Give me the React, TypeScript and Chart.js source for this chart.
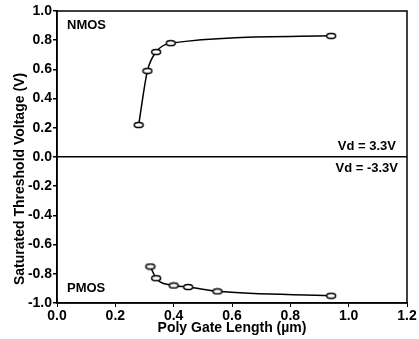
import React, { useEffect, useRef } from "react";
import { Chart, registerables } from "chart.js";

Chart.register(...registerables);

const nmosX = [0.28, 0.31, 0.34, 0.39, 0.94];
const nmosY = [0.22, 0.59, 0.72, 0.78, 0.83];
const pmosX = [0.32, 0.34, 0.4, 0.45, 0.55, 0.94];
const pmosY = [-0.75, -0.83, -0.88, -0.89, -0.92, -0.95];

const xTitle = "Poly Gate Length (\u00b5m)";
const yTitle = "Saturated Threshold Voltage (V)";
const labelN = "NMOS";
const labelP = "PMOS";
const vdPos = "Vd = 3.3V";
const vdNeg = "Vd = -3.3V";

const FONT = "'Liberation Sans', Arial, Helvetica, sans-serif";

function makeEllipse(): HTMLCanvasElement {
  const c = document.createElement("canvas");
  c.width = 12;
  c.height = 8;
  const g = c.getContext("2d")!;
  g.beginPath();
  g.ellipse(6, 4, 4.5, 2.6, 0, 0, Math.PI * 2);
  g.fillStyle = "#fff";
  g.fill();
  g.lineWidth = 1.5;
  g.strokeStyle = "#000";
  g.stroke();
  return c;
}

export default function App() {
  const ref = useRef<HTMLCanvasElement | null>(null);
  useEffect(() => {
    document.body.style.margin = "0";
    if (!ref.current) return;
    const marker = makeEllipse();
    const annot = {
      id: "annot",
      beforeDatasetsDraw(chart: any) {
        const { ctx, chartArea: a } = chart;
        ctx.save();
        ctx.strokeStyle = "#000";
        ctx.lineWidth = 1.5;
        ctx.strokeRect(a.left, a.top, a.right - a.left, a.bottom - a.top);
        ctx.restore();
      },
      afterDraw(chart: any) {
        const { ctx, chartArea: a, scales } = chart;
        const y0 = scales.y.getPixelForValue(0);
        ctx.save();
        ctx.fillStyle = "#000";
        ctx.font = `bold 13px ${FONT}`;
        ctx.textBaseline = "middle";
        ctx.textAlign = "left";
        ctx.fillText(labelN, a.left + 10, a.top + 14);
        ctx.fillText(labelP, a.left + 10, a.bottom - 15);
        ctx.textAlign = "right";
        ctx.fillText(vdPos, a.right - 11, y0 - 11);
        ctx.fillText(vdNeg, a.right - 9, y0 + 11);
        ctx.font = `bold 14px ${FONT}`;
        ctx.translate(20, 179);
        ctx.rotate(-Math.PI / 2);
        ctx.textAlign = "center";
        ctx.fillText(yTitle, 0, 0);
        ctx.restore();
      },
    };
    const chart = new Chart(ref.current, {
      type: "scatter",
      data: {
        datasets: [
          {
            label: labelN,
            data: nmosX.map((x, i) => ({ x, y: nmosY[i] })),
            showLine: true,
            borderColor: "#000",
            borderWidth: 1.5,
            cubicInterpolationMode: "monotone",
            pointStyle: marker,
          },
          {
            label: labelP,
            data: pmosX.map((x, i) => ({ x, y: pmosY[i] })),
            showLine: true,
            borderColor: "#000",
            borderWidth: 1.5,
            cubicInterpolationMode: "monotone",
            pointStyle: marker,
          },
        ],
      },
      options: {
        animation: false,
        responsive: false,
        layout: { padding: { left: 0, right: 12, top: 11, bottom: 0 } },
        plugins: { legend: { display: false }, tooltip: { enabled: false } },
        scales: {
          x: {
            type: "linear",
            min: 0,
            max: 1.2,
            afterFit: (s: any) => {
              s.height = 36;
            },
            ticks: {
              stepSize: 0.2,
              color: "#000",
              padding: 1,
              font: { family: FONT, size: 14, weight: "bold" },
              callback: (v: any) => Number(v).toFixed(1),
            },
            grid: { drawOnChartArea: false, tickLength: 4, tickColor: "#000" },
            border: { color: "#000", width: 1.5 },
            title: {
              display: true,
              text: xTitle,
              color: "#000",
              padding: { top: 0, bottom: 2 },
              font: { family: FONT, size: 14, weight: "bold" },
            },
          },
          y: {
            type: "linear",
            min: -1,
            max: 1,
            afterFit: (s: any) => {
              s.width = 57;
            },
            ticks: {
              stepSize: 0.2,
              color: "#000",
              padding: 1,
              font: { family: FONT, size: 14, weight: "bold" },
              callback: (v: any) => Number(v).toFixed(1),
            },
            grid: {
              color: (c: any) => (c.tick && Math.abs(c.tick.value) < 1e-9 ? "#000" : "rgba(0,0,0,0)"),
              lineWidth: 1.5,
              tickLength: 4,
              tickColor: "#000",
            },
            border: { color: "#000", width: 1.5 },
          },
        },
      } as any,
      plugins: [annot],
    });
    return () => chart.destroy();
  }, []);
  return (
    <div style={{ width: 419, height: 339 }}>
      <canvas ref={ref} width={419} height={339} />
    </div>
  );
}
